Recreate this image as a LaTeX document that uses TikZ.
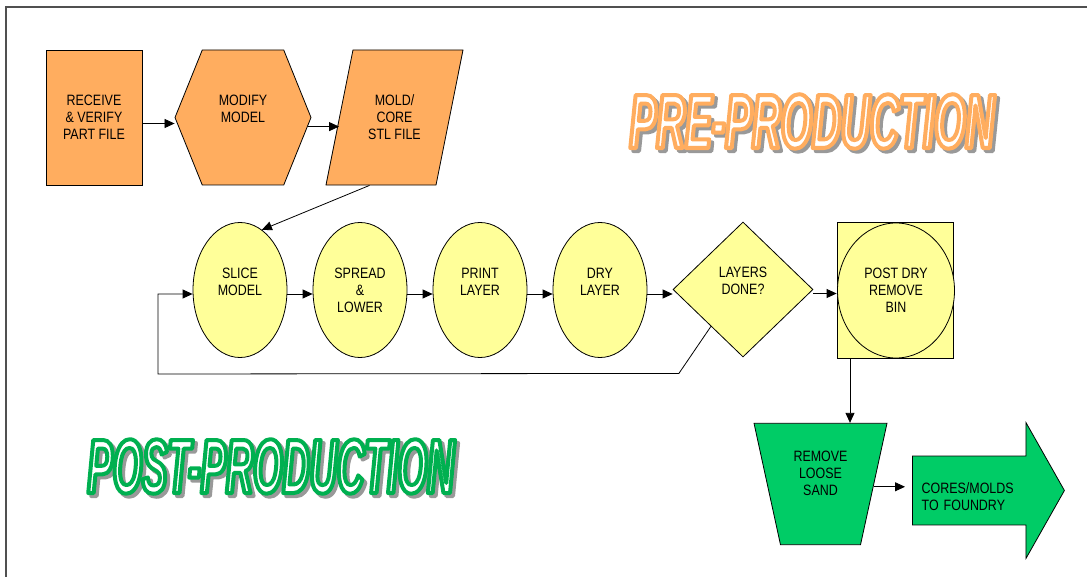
\documentclass[tikz,border=0pt]{standalone}
\usepackage{fontspec}
\setmainfont{Liberation Sans}[FakeStretch=0.83]
\newfontfamily\prefont{Liberation Sans}[FakeStretch=0.52]
\newfontfamily\postfont{Liberation Sans}[FakeStretch=0.49]
\usetikzlibrary{shapes.geometric,shapes.symbols,shapes.arrows,arrows.meta}
\setlength{\parindent}{0pt}

\definecolor{preorange}{HTML}{FFAD5F}
\definecolor{stepyellow}{HTML}{FFFF99}
\definecolor{postgreen}{HTML}{00CC66}
\definecolor{shadowgray}{HTML}{9A9A9A}
\definecolor{framegray}{HTML}{505050}

% outlined banner letters: stroke colour #1 (rgb), fill is the text colour
\newcommand\strokedtext[2]{\special{pdf:literal direct #1 RG 4 w 1 j 2 Tr}#2\special{pdf:literal direct 0 Tr}}
\newcommand\bannertext[2]{\makebox[0pt][l]{\hspace{3pt}\raisebox{-3pt}{\textcolor{shadowgray}{\strokedtext{0.6 0.6 0.6}{#2}}}}\textcolor{white}{\strokedtext{#1}{#2}}}

\tikzset{
  box/.style={draw, line width=0.8pt, align=center, inner sep=0pt,
    font=\fontsize{15}{17}\selectfont},
  prebox/.style={box, fill=preorange},
  stepnode/.style={box, fill=stepyellow, ellipse, minimum width=94, minimum height=135},
  postbox/.style={box, fill=postgreen},
  banner/.style={font=#1\bfseries\itshape\fontsize{77}{80}\selectfont},
  flow/.style={-{Triangle[length=10pt,width=9pt]}, line width=0.8pt},
}

\begin{document}
\begin{tikzpicture}[x=1pt,y=-1pt]
  \useasboundingbox (0,0) rectangle (1087,577);
  \draw[framegray, line width=2pt] (6,577) -- (6,7) -- (1087,7);

  % banners
  \node[banner=\prefont] (pre) at (812,123) {\bannertext{1 0.678 0.373}{PRE-PRODUCTION}};
  \node[banner=\postfont] (post) at (271,468) {\bannertext{0 0.69 0.314}{POST-PRODUCTION}};

  % pre-production
  \node[prebox, rectangle, minimum width=96, minimum height=135] (receive) at (94,117.5)
    {RECEIVE\\\& VERIFY\\PART FILE};
  \node[prebox, signal, signal to=east and west, signal pointer angle=136,
    minimum width=136, minimum height=135] (modify) at (243,117.5) {MODIFY\\MODEL\\\mbox{}};
  \node[prebox, trapezium, trapezium left angle=78.7, trapezium right angle=101.3,
    trapezium stretches body, minimum width=137, inner ysep=45] (mold) at (394.5,117.5)
    {MOLD/\\CORE\\STL FILE};

  % printing loop
  \node[stepnode] (slice) at (240,290) {SLICE\\MODEL\\\mbox{}};
  \node[stepnode] (spread) at (360,290) {SPREAD\\\&\\LOWER};
  \node[stepnode] (print) at (480,290) {PRINT\\LAYER\\\mbox{}};
  \node[stepnode] (dry) at (600,290) {DRY\\LAYER\\\mbox{}};
  \node[box, fill=stepyellow, diamond, minimum width=140, minimum height=135] (layers)
    at (743,289.5) {LAYERS\\DONE?\\\mbox{}};
  \node[box, fill=stepyellow, rectangle, minimum width=116, minimum height=136] (postbin)
    at (895,290) {};
  \node[box, fill=stepyellow, ellipse, minimum width=117, minimum height=135] (postdry)
    at (896,290.5) {POST DRY\\REMOVE\\BIN};

  % post-production
  \node[postbox, trapezium, trapezium left angle=77.7, trapezium right angle=77.7,
    shape border rotate=180, trapezium stretches body, minimum width=133,
    inner ysep=27.5] (sand) at (820.5,484) {REMOVE\\LOOSE\\SAND\\[5pt]\mbox{}};
  \node[postbox, single arrow, single arrow head extend=33.5, single arrow tip angle=121,
    single arrow head indent=0, minimum height=152, minimum width=135, align=left,
    text width=94, inner xsep=10, inner ysep=14, anchor=west] (foundry) at (912,490.5)
    {\mbox{}\\[6pt]\hspace*{-10pt}CORES/MOLDS\\\hspace*{-10pt}TO FOUNDRY};

  % connectors
  \draw[flow] ([yshift=-6pt]receive.east) -- ([yshift=-6pt]receive.east -| modify.west);
  \draw[flow] (modify.-8) -- (modify.-8 -| mold.west);
  \draw[flow] ([xshift=-25pt]mold.south) -- (slice.70);
  \foreach \a/\b in {slice/spread, spread/print, print/dry, dry/layers, layers/postbin}
    \draw[flow] ([yshift=-4pt]\a.east) -- ([yshift=-4pt]\a.east -| \b.west);
  \coordinate (back) at (158,374);
  \draw[flow] (layers.229) -- ++(-32,47) -- (back) |- ([yshift=-4pt]slice.west);
  \draw[flow] ([xshift=-45pt]postbin.south) -- ([xshift=-45pt]postbin.south |- sand.90);
  \draw[flow] (sand.-3) -- ([xshift=-7pt]sand.-3 -| foundry.west);
\end{tikzpicture}
\end{document}
